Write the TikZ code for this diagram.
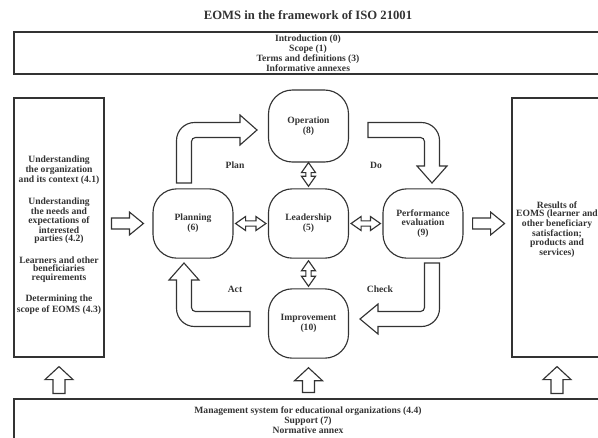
\documentclass[tikz,border=0pt]{standalone}
\usepackage{fontspec}
\setmainfont{Liberation Serif}
\usetikzlibrary{calc}

% hollow block arrow: tail, tip, shaft half width, head half width, head length
\newcommand{\blockarrow}[5]{%
  \draw[arrowline] let \p1=(#1), \p2=(#2), \p3=($(\p2)!#5!(\p1)$) in
    ($(\p1)!#3!90:(\p2)$) -- ($(\p3)!#3!90:(\p2)$) -- ($(\p3)!#4!90:(\p2)$) -- (\p2)
    -- ($(\p3)!#4!-90:(\p2)$) -- ($(\p3)!#3!-90:(\p2)$) -- ($(\p1)!#3!-90:(\p2)$) -- cycle ;}
% hollow double arrow between two points
\newcommand{\dblarrow}[2]{%
  \draw[arrowline] let \p1=(#1), \p2=(#2), \p3=($(\p2)!7.5pt!(\p1)$), \p4=($(\p1)!7.5pt!(\p2)$) in
    (\p1) -- ($(\p4)!5.25pt!90:(\p2)$) -- ($(\p4)!2pt!90:(\p2)$) -- ($(\p3)!2pt!90:(\p2)$)
    -- ($(\p3)!5.25pt!90:(\p2)$) -- (\p2) -- ($(\p3)!5.25pt!-90:(\p2)$) -- ($(\p3)!2pt!-90:(\p2)$)
    -- ($(\p4)!2pt!-90:(\p2)$) -- ($(\p4)!5.25pt!-90:(\p2)$) -- cycle ;}

\begin{document}
\begin{tikzpicture}[x=0.75pt,y=0.75pt,yscale=-1,xscale=1,
    every node/.style={text=black!80, font=\fontsize{7.2}{7.3}\selectfont\bfseries, inner sep=0pt},
    arrowline/.style={draw=black!80, line width=0.85pt, line join=miter},
    frame/.style={draw=black!80, line width=0.85pt},
    stage/.style={draw=black!80, line width=0.85pt, rounded corners=18pt, minimum width=60pt, minimum height=52pt, align=center},
    boxtext/.style={align=center, font=\fontsize{7.2}{6.5}\selectfont\bfseries}]
    \useasboundingbox (0,0) rectangle (598,437);
    \clip (0,0) rectangle (598,437);

    % Text Node
    \node (title) at (308,15) [font=\fontsize{9.5}{11}\selectfont\bfseries] {EOMS in the framework of ISO 21001};

    %Shape: Rectangle [top]
    \node [frame, minimum width=441pt, minimum height=31.5pt, align=center, font=\fontsize{7.2}{7.5}\selectfont\bfseries] (topbox) at (308,53)
        {Introduction (0)\\Scope (1)\\Terms and definitions (3)\\Informative annexes};
    %Shape: Rectangle [bottom]
    \node [frame, minimum width=441pt, minimum height=31.5pt, align=center, font=\fontsize{7.2}{7.5}\selectfont\bfseries] (botbox) at (308,420)
        {Management system for educational organizations (4.4)\\Support (7)\\Normative annex};
    %Shape: Rectangle [left]
    \node [frame, minimum width=67.5pt, minimum height=194.25pt] (leftbox) at (59,227.5) {};
    %Shape: Rectangle [right]
    \node [frame, minimum width=67.5pt, minimum height=194.25pt] (rightbox) at (557,227.5) {};

    % Text Node
    \node [boxtext] (lefttext) at (59,235)
        {Understanding\\the organization\\and its context (4.1)\\[8.5pt]
         Understanding\\the needs and\\expectations of\\interested\\parties (4.2)\\[8.5pt]
         Learners and other\\beneficiaries\\requirements\\[8.5pt]
         Determining the\\scope of EOMS (4.3)};
    % Text Node
    \node [boxtext] (righttext) at (557,229.5)
        {Results of\\EOMS (learner and\\other beneficiary\\satisfaction;\\products and\\services)};

    %Shape: Stages
    \node [stage, minimum height=54pt] (op) at (308.5,126) {Operation\\(8)};
    \node [stage] (lead) at (308.5,223.5) {Leadership\\(5)};
    \node [stage] (plan) at (193,223.5) {Planning\\(6)};
    \node [stage] (perf) at (423,223.5) {Performance\\evaluation\\(9)};
    \node [stage] (impr) at (308.5,323.5) {Improvement\\(10)};

    % Text Node
    \node (plantxt) at (235,165) {Plan};
    \node (dotxt) at (376,165) {Do};
    \node (acttxt) at (235,289) {Act};
    \node (checktxt) at (380,289) {Check};

    %Shape: Double Arrows
    \dblarrow{$(plan.east)+(2,0)$}{$(lead.west)+(-2,0)$}
    \dblarrow{$(lead.east)+(2,0)$}{$(perf.west)+(-2,0)$}
    \dblarrow{op.south}{$(lead.north)+(0,-2)$}
    \dblarrow{$(lead.south)+(0,2)$}{$(impr.north)+(0,-2)$}

    %Shape: Right Arrows
    \blockarrow{$(plan.west)+(-41,0)$}{$(plan.west)+(-9,0)$}{4.1pt}{8.6pt}{10.5pt}
    \blockarrow{$(perf.east)+(9,0)$}{$(perf.east)+(41,0)$}{4.1pt}{8.6pt}{10.5pt}
    %Shape: Up Arrows
    \blockarrow{$(botbox.north -| leftbox.south)+(0,-5)$}{$(leftbox.south)+(0,9)$}{4.5pt}{10.5pt}{9.75pt}
    \blockarrow{$(botbox.north -| impr.south)+(0,-6)$}{$(impr.south)+(0,9)$}{4.5pt}{10.5pt}{9.75pt}
    \blockarrow{$(botbox.north -| rightbox.south)+(0,-5)$}{$(rightbox.south)+(0,9)$}{4.5pt}{10.5pt}{9.75pt}

    %Shape: Bent Arrow [plan]
    \draw [arrowline] (176.5,183) -- (176.5,140.5) .. controls (176.5,130.6) and (184.6,122.5) .. (194.5,122.5) -- (240,122.5) -- (240,115) -- (257,130) -- (240,145) -- (240,137.5) -- (195.5,137.5) .. controls (193.3,137.5) and (191.5,139.3) .. (191.5,141.5) -- (191.5,183) -- cycle ;
    %Shape: Bent Arrow [do]
    \draw [arrowline] (368,122.5) -- (421.5,122.5) .. controls (431.4,122.5) and (439.5,130.6) .. (439.5,140.5) -- (439.5,166) -- (447,166) -- (432,183) -- (417,166) -- (424.5,166) -- (424.5,141.5) .. controls (424.5,139.3) and (422.7,137.5) .. (420.5,137.5) -- (368,137.5) -- cycle ;
    %Shape: Bent Arrow [check]
    \draw [arrowline] (424.5,263) -- (439.5,263) -- (439.5,308.5) .. controls (439.5,318.4) and (431.4,326.5) .. (421.5,326.5) -- (378,326.5) -- (378,334) -- (360,319) -- (378,304) -- (378,311.5) -- (420.5,311.5) .. controls (422.7,311.5) and (424.5,309.7) .. (424.5,307.5) -- cycle ;
    %Shape: Bent Arrow [act]
    \draw [arrowline] (250,311.5) -- (250,326.5) -- (194.5,326.5) .. controls (184.6,326.5) and (176.5,318.4) .. (176.5,308.5) -- (176.5,280) -- (169,280) -- (184,263) -- (199,280) -- (191.5,280) -- (191.5,307.5) .. controls (191.5,309.7) and (193.3,311.5) .. (195.5,311.5) -- cycle ;

\end{tikzpicture}
\end{document}
